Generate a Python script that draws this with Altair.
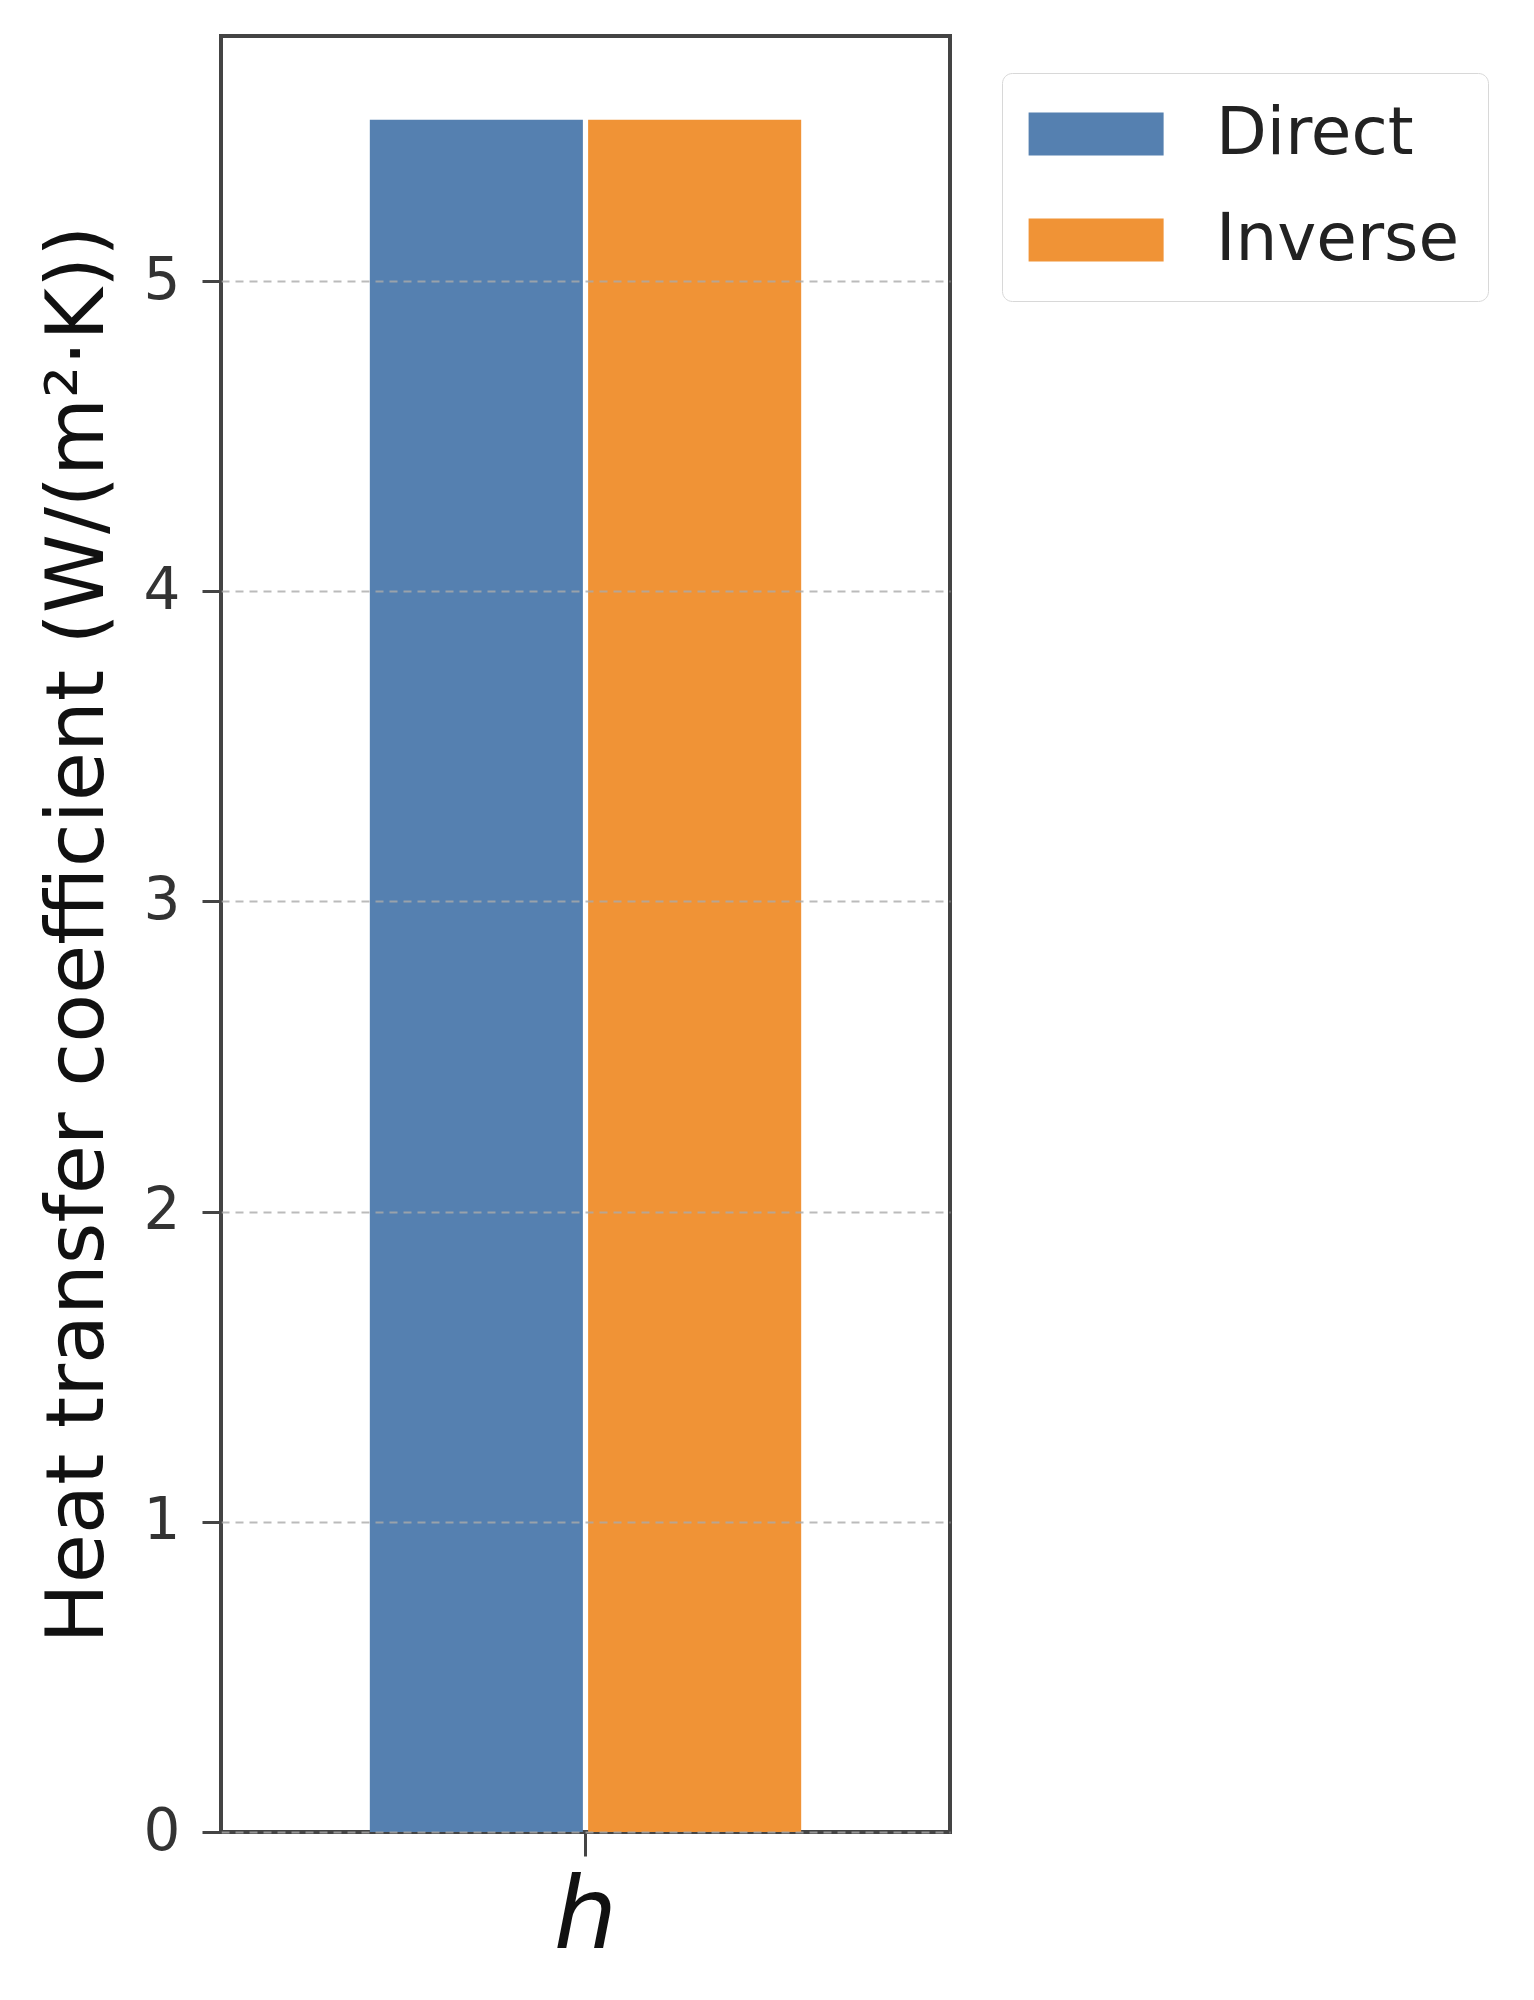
import altair as alt
import pandas as pd

params = ["h", "h"]
methods = ["Direct", "Inverse"]
values = [5.52, 5.52]
colors = ["#5580b0", "#f09336"]
y_ticks = [0, 1, 2, 3, 4, 5]
y_max = 5.79

df = pd.DataFrame({"param": params, "method": methods, "value": values})

bars = alt.Chart(df).mark_bar().encode(
    x=alt.X(
        "param:N",
        scale=alt.Scale(paddingInner=0, paddingOuter=0.345),
        axis=alt.Axis(
            title=None, labelAngle=0, labelFont="DejaVu Sans", labelFontStyle="italic",
            labelFontSize=100, labelColor="#111", labelPadding=12,
            tickSize=24, tickWidth=3, tickColor="#444", domain=False,
        ),
    ),
    xOffset=alt.XOffset("method:N", sort=methods, scale=alt.Scale(paddingInner=0.024)),
    y=alt.Y(
        "value:Q",
        scale=alt.Scale(domain=[0, y_max], nice=False),
        axis=alt.Axis(
            title="Heat transfer coefficient (W/(m²·K))", titleFont="DejaVu Sans",
            titleFontSize=80, titleFontWeight="normal", titleColor="#111", titlePadding=24,
            values=y_ticks, labelFont="DejaVu Sans", labelFontSize=58, labelColor="#333",
            labelPadding=22, tickSize=19, tickWidth=3, tickColor="#444", domain=False,
            grid=True, gridDash=[8, 6], gridColor="#aaaaaa", gridOpacity=0.8, gridWidth=2,
            zindex=1,
        ),
    ),
    color=alt.Color(
        "method:N",
        sort=methods,
        scale=alt.Scale(domain=methods, range=colors),
        legend=alt.Legend(
            title=None, orient="none", legendX=781, legendY=37,
            symbolType="M-1.6,-1H4.68V1H-1.6Z", symbolSize=1849, symbolStrokeWidth=0,
            labelFont="DejaVu Sans", labelFontSize=66, labelColor="#222", labelOffset=120,
            labelLimit=0, rowPadding=40, padding=28, strokeColor="#d8d8d8", cornerRadius=10,
            fillColor="white",
        ),
    ),
).properties(
    width=729, height=1796,
    padding={"left": 30, "top": 28, "right": 5, "bottom": 5},
)

chart = bars.configure_view(stroke="#444444", strokeWidth=4)

chart.save("out.html", embed_options={"renderer": "svg", "actions": False})
